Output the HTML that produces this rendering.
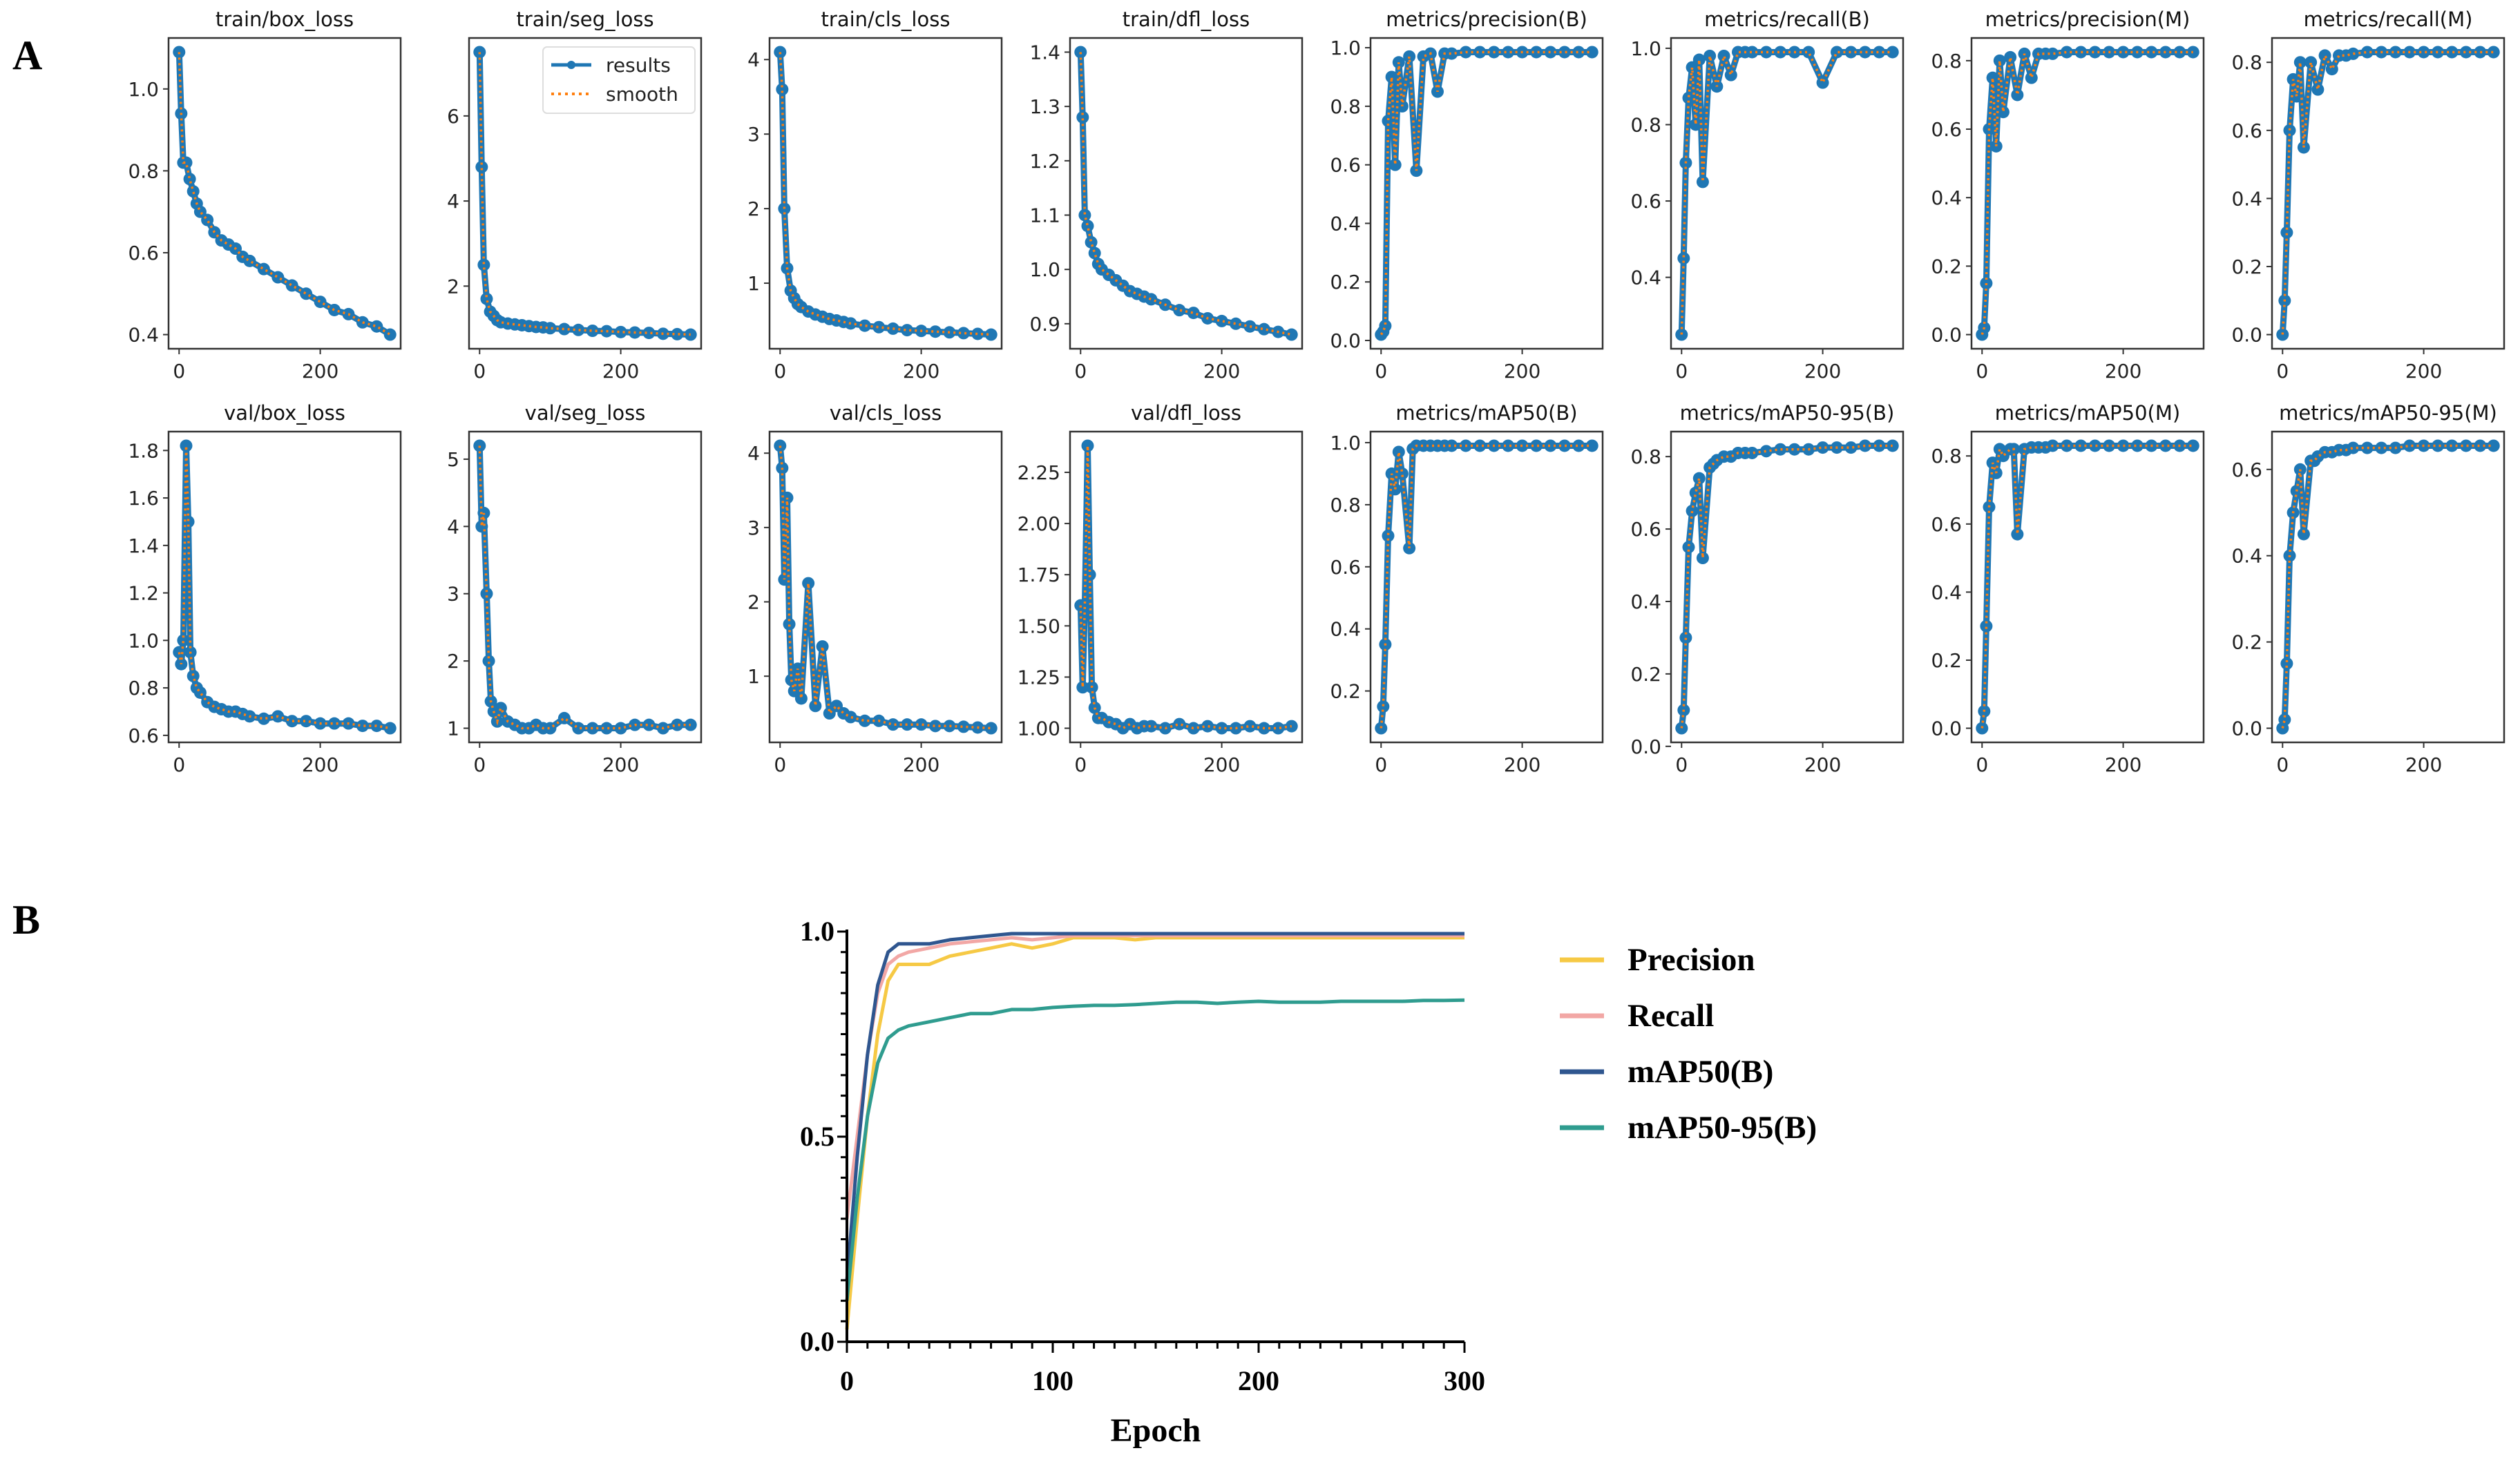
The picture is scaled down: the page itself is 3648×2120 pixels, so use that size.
<!DOCTYPE html>
<html><head><meta charset="utf-8"><style>
html,body{margin:0;padding:0;background:#fff}
svg{display:block}
</style></head><body>
<svg id="fig" width="3648" height="2120" viewBox="0 0 3648 2120" xmlns="http://www.w3.org/2000/svg">
<text x="18" y="100" font-family="Liberation Serif, serif" font-weight="bold" font-size="60">A</text>
<text x="18" y="1352" font-family="Liberation Serif, serif" font-weight="bold" font-size="60">B</text>
<g id="panelA"></g>
<g id="panelB"></g>
</svg>
<script>
// ---- Panel A data ----
const titles = ["train/box_loss","train/seg_loss","train/cls_loss","train/dfl_loss","metrics/precision(B)","metrics/recall(B)","metrics/precision(M)","metrics/recall(M)","val/box_loss","val/seg_loss","val/cls_loss","val/dfl_loss","metrics/mAP50(B)","metrics/mAP50-95(B)","metrics/mAP50(M)","metrics/mAP50-95(M)"];
const epochsStd = [0,3,6,10,15,20,25,30,40,50,60,70,80,90,100,120,140,160,180,200,220,240,260,280,299];
const epochsVal = [0,3,6,10,13,16,20,25,30,40,50,60,70,80,90,100,120,140,160,180,200,220,240,260,280,299];
const epochsMap = [0,3,6,10,15,20,25,30,40,45,50,60,70,80,90,100,120,140,160,180,200,220,240,260,280,299];
const trainBox = [1.09,0.94,0.82,0.82,0.78,0.75,0.72,0.70,0.68,0.65,0.63,0.62,0.61,0.59,0.58,0.56,0.54,0.52,0.50,0.48,0.46,0.45,0.43,0.42,0.40];
const trainSeg = [7.5,4.8,2.5,1.7,1.4,1.3,1.2,1.15,1.12,1.1,1.08,1.06,1.04,1.03,1.01,0.99,0.97,0.95,0.94,0.92,0.91,0.9,0.88,0.87,0.86];
const trainCls = [4.1,3.6,2.0,1.2,0.9,0.8,0.72,0.68,0.62,0.58,0.55,0.52,0.5,0.48,0.46,0.43,0.41,0.39,0.37,0.36,0.35,0.34,0.33,0.32,0.31];
const trainDfl = [1.40,1.28,1.10,1.08,1.05,1.03,1.01,1.0,0.99,0.98,0.97,0.96,0.955,0.95,0.945,0.935,0.925,0.92,0.91,0.905,0.9,0.895,0.89,0.885,0.88];
const precB = [0.02,0.03,0.05,0.75,0.9,0.6,0.95,0.8,0.97,0.58,0.97,0.98,0.85,0.98,0.98,0.985,0.985,0.985,0.985,0.985,0.985,0.985,0.985,0.985,0.985];
const recB = [0.25,0.45,0.7,0.87,0.95,0.8,0.97,0.65,0.98,0.9,0.98,0.93,0.99,0.99,0.99,0.99,0.99,0.99,0.99,0.91,0.99,0.99,0.99,0.99,0.99];
const precM = [0.0,0.02,0.15,0.6,0.75,0.55,0.8,0.65,0.81,0.7,0.82,0.75,0.82,0.82,0.82,0.825,0.825,0.825,0.825,0.825,0.825,0.825,0.825,0.825,0.825];
const recM = [0.0,0.1,0.3,0.6,0.75,0.7,0.8,0.55,0.8,0.72,0.82,0.78,0.82,0.82,0.825,0.83,0.83,0.83,0.83,0.83,0.83,0.83,0.83,0.83,0.83];
const valBox = [0.95,0.9,1.0,1.82,1.5,0.95,0.85,0.8,0.78,0.74,0.72,0.71,0.7,0.7,0.69,0.68,0.67,0.68,0.66,0.66,0.65,0.65,0.65,0.64,0.64,0.63];
const valSeg = [5.2,4.0,4.2,3.0,2.0,1.4,1.25,1.1,1.3,1.1,1.05,1.0,1.0,1.05,1.0,1.0,1.15,1.0,1.0,1.0,1.0,1.05,1.05,1.0,1.05,1.05];
const valCls = [4.1,3.8,2.3,3.4,1.7,0.95,0.8,1.1,0.7,2.25,0.6,1.4,0.5,0.6,0.5,0.45,0.4,0.4,0.35,0.35,0.35,0.33,0.33,0.32,0.31,0.3];
const valDfl = [1.6,1.2,1.6,2.38,1.75,1.2,1.1,1.05,1.05,1.03,1.02,1.0,1.02,1.0,1.01,1.01,1.0,1.02,1.0,1.01,1.0,1.0,1.01,1.0,1.0,1.01];
const map50B = [0.08,0.15,0.35,0.7,0.9,0.85,0.97,0.9,0.66,0.98,0.99,0.99,0.99,0.99,0.99,0.99,0.99,0.99,0.99,0.99,0.99,0.99,0.99,0.99,0.99,0.99];
const map5095B = [0.05,0.1,0.3,0.55,0.65,0.7,0.74,0.52,0.77,0.78,0.79,0.8,0.8,0.81,0.81,0.81,0.815,0.82,0.82,0.82,0.825,0.825,0.825,0.83,0.83,0.83];
const map50M = [0.0,0.05,0.3,0.65,0.78,0.75,0.82,0.8,0.82,0.82,0.57,0.82,0.825,0.825,0.825,0.83,0.83,0.83,0.83,0.83,0.83,0.83,0.83,0.83,0.83,0.83];
const map5095M = [0.0,0.02,0.15,0.4,0.5,0.55,0.6,0.45,0.62,0.62,0.63,0.64,0.64,0.645,0.645,0.65,0.65,0.65,0.65,0.655,0.655,0.655,0.655,0.655,0.655,0.655];
const seriesA = [trainBox,trainSeg,trainCls,trainDfl,precB,recB,precM,recM,valBox,valSeg,valCls,valDfl,map50B,map5095B,map50M,map5095M];
const epochsA = [epochsStd,epochsStd,epochsStd,epochsStd,epochsStd,epochsStd,epochsStd,epochsStd,epochsVal,epochsVal,epochsVal,epochsVal,epochsMap,epochsMap,epochsMap,epochsMap];
const yTicksA = [[0.4,0.6,0.8,1.0],[2,4,6],[1,2,3,4],[0.9,1.0,1.1,1.2,1.3,1.4],[0.0,0.2,0.4,0.6,0.8,1.0],[0.4,0.6,0.8,1.0],[0.0,0.2,0.4,0.6,0.8],[0.0,0.2,0.4,0.6,0.8],
 [0.6,0.8,1.0,1.2,1.4,1.6,1.8],[1,2,3,4,5],[1,2,3,4],[1.00,1.25,1.50,1.75,2.00,2.25],[0.2,0.4,0.6,0.8,1.0],[0.0,0.2,0.4,0.6,0.8],[0.0,0.2,0.4,0.6,0.8],[0.0,0.2,0.4,0.6]];
const yTickFmt = [1,0,0,1,1,1,1,1,1,0,0,2,1,1,1,1];
const xTicksA = [0,200];
// ---- Panel B data ----
const epochsB = [0,5,10,15,20,25,30,40,50,60,70,80,90,100,110,120,130,140,150,160,170,180,190,200,210,220,230,240,250,260,270,280,290,300];
const precisionB = [0.03,0.3,0.55,0.75,0.88,0.92,0.92,0.92,0.94,0.95,0.96,0.97,0.96,0.97,0.985,0.985,0.985,0.98,0.985,0.985,0.985,0.985,0.985,0.985,0.985,0.985,0.985,0.985,0.985,0.985,0.985,0.985,0.985,0.985];
const recallB = [0.3,0.5,0.7,0.85,0.92,0.94,0.95,0.96,0.97,0.975,0.98,0.985,0.98,0.985,0.99,0.99,0.99,0.99,0.99,0.99,0.99,0.99,0.99,0.99,0.99,0.99,0.99,0.99,0.99,0.99,0.99,0.99,0.99,0.99];
const mAP50B = [0.15,0.45,0.7,0.87,0.95,0.97,0.97,0.97,0.98,0.985,0.99,0.995,0.995,0.995,0.995,0.995,0.995,0.995,0.995,0.995,0.995,0.995,0.995,0.995,0.995,0.995,0.995,0.995,0.995,0.995,0.995,0.995,0.995,0.995];
const mAP5095B = [0.1,0.35,0.55,0.68,0.74,0.76,0.77,0.78,0.79,0.80,0.80,0.81,0.81,0.815,0.818,0.82,0.82,0.822,0.825,0.828,0.828,0.825,0.828,0.83,0.828,0.828,0.828,0.83,0.83,0.83,0.83,0.832,0.832,0.833];
const legendB = ["Precision","Recall","mAP50(B)","mAP50-95(B)"];
const colorsB = ["#f6c945","#f2a7a5","#2f568f","#2f9c8f"];
const xTicksB = [0,100,200,300];
const yTicksB = [0.0,0.5,1.0];

const NS = "http://www.w3.org/2000/svg";
function mk(tag, attrs, parent){const e=document.createElementNS(NS,tag);for(const k in attrs)e.setAttribute(k,attrs[k]);parent.appendChild(e);return e;}

// ---- draw panel A ----
const gA = document.getElementById('panelA');
const boxW=336, boxH=450, colStep=435, left0=244, tops=[55,625];
seriesA.forEach((vals,i)=>{
  const col=i%8,row=Math.floor(i/8);
  const x0=left0+col*colStep,y0=tops[row];
  const ep=epochsA[i];
  const ymin=Math.min(...vals),ymax=Math.max(...vals),r=ymax-ymin;
  const lo=ymin-0.05*r,hi=ymax+0.05*r;
  const xlo=-0.05*299,xhi=299*1.05;
  const sx=v=>x0+(v-xlo)/(xhi-xlo)*boxW;
  const sy=v=>y0+boxH-(v-lo)/(hi-lo)*boxH;
  const g=mk('g',{},gA);
  
  
  const t=mk('text',{x:x0+boxW/2,y:y0-17,'text-anchor':'middle','font-family':'DejaVu Sans, sans-serif','font-size':29,fill:'#111'},g);
  t.textContent=titles[i];
  
  
  const pts=ep.map((e,k)=>sx(e).toFixed(1)+','+sy(vals[k]).toFixed(1)).join(' ');
  const line=mk('polyline',{points:pts,fill:'none',stroke:'#1f77b4','stroke-width':9,'stroke-linejoin':'round'},g);
  
  
  ep.forEach((e,k)=>{
    const c=mk('circle',{cx:sx(e),cy:sy(vals[k]),r:9,fill:'#1f77b4'},g);
    
    
  });
  const sm=mk('polyline',{points:pts,fill:'none',stroke:'#ff7f0e','stroke-width':3.5,'stroke-dasharray':'3 5'},g);
  
  
  const fr=mk('rect',{x:x0,y:y0,width:boxW,height:boxH,fill:'none',stroke:'#333','stroke-width':2.5},g);
  
  
  yTicksA[i].forEach(v=>{
    const y=sy(v);
    mk('line',{x1:x0-8,x2:x0,y1:y,y2:y,stroke:'#333','stroke-width':2},g);
    const tl=mk('text',{x:x0-14,y:y+10,'text-anchor':'end','font-family':'DejaVu Sans, sans-serif','font-size':28,fill:'#222'},g);
    tl.textContent=v.toFixed(yTickFmt[i]);
    
    
  });
  xTicksA.forEach(v=>{
    const x=sx(v);
    mk('line',{x1:x,x2:x,y1:y0+boxH,y2:y0+boxH+8,stroke:'#333','stroke-width':2},g);
    const tl=mk('text',{x:x,y:y0+boxH+42,'text-anchor':'middle','font-family':'DejaVu Sans, sans-serif','font-size':28,fill:'#222'},g);
    tl.textContent=String(v);
    
    
  });
  if(i===1){
    const lg=mk('g',{},g);
    
    
    mk('rect',{x:786,y:68,width:220,height:96,rx:6,fill:'#fff',stroke:'#ddd','stroke-width':2},lg);
    mk('line',{x1:798,x2:856,y1:94,y2:94,stroke:'#1f77b4','stroke-width':5},lg);
    mk('circle',{cx:827,cy:94,r:6,fill:'#1f77b4'},lg);
    mk('line',{x1:798,x2:856,y1:136,y2:136,stroke:'#ff7f0e','stroke-width':4,'stroke-dasharray':'4 6'},lg);
    const a=mk('text',{x:877,y:104,'font-family':'DejaVu Sans, sans-serif','font-size':28,fill:'#222'},lg);a.textContent='results';
    
    
    const b=mk('text',{x:877,y:146,'font-family':'DejaVu Sans, sans-serif','font-size':28,fill:'#222'},lg);b.textContent='smooth';
    
    
  }
});

// ---- draw panel B ----
const gB=document.getElementById('panelB');
const bx0=1226,bx1=2120,by0=1943,by1=1349;
const bsx=v=>bx0+v/300*(bx1-bx0);
const bsy=v=>by0-v*(by0-by1);
[precisionB,recallB,mAP50B,mAP5095B].forEach((vals,k)=>{
  const pts=epochsB.map((e,j)=>bsx(e).toFixed(1)+','+bsy(vals[j]).toFixed(1)).join(' ');
  const pl=mk('polyline',{points:pts,fill:'none',stroke:colorsB[k],'stroke-width':5,'stroke-linejoin':'round'},gB);
  
  
});
mk('line',{x1:bx0,x2:bx0,y1:by1-3,y2:by0,stroke:'#000','stroke-width':4},gB);
mk('line',{x1:bx0,x2:bx1,y1:by0,y2:by0,stroke:'#000','stroke-width':4},gB);
for(let v=0;v<=1.0001;v+=0.05){
  const maj=Math.abs(v*2-Math.round(v*2))<1e-6;
  mk('line',{x1:bx0-(maj?14:9),x2:bx0,y1:bsy(v),y2:bsy(v),stroke:'#000','stroke-width':3},gB);
}
for(let v=0;v<=300;v+=10){
  const maj=v%100===0;
  mk('line',{x1:bsx(v),x2:bsx(v),y1:by0,y2:by0+(maj?16:10),stroke:'#000','stroke-width':3},gB);
}
yTicksB.forEach(v=>{
  const t=mk('text',{x:bx0-18,y:bsy(v)+13,'text-anchor':'end','font-family':'Liberation Serif, serif','font-weight':'bold','font-size':40},gB);
  t.textContent=v.toFixed(1);
  
  
});
xTicksB.forEach(v=>{
  const t=mk('text',{x:bsx(v),y:by0+70,'text-anchor':'middle','font-family':'Liberation Serif, serif','font-weight':'bold','font-size':40},gB);
  t.textContent=String(v);
  
  
});
const xl=mk('text',{x:1673,y:2087,'text-anchor':'middle','font-family':'Liberation Serif, serif','font-weight':'bold','font-size':48},gB);
xl.textContent='Epoch';


legendB.forEach((name,k)=>{
  const y=1390+k*81;
  const lg=mk('g',{},gB);
  
  
  mk('line',{x1:2258,x2:2322,y1:y,y2:y,stroke:colorsB[k],'stroke-width':7},lg);
  const t=mk('text',{x:2356,y:y+15,'font-family':'Liberation Serif, serif','font-weight':'bold','font-size':47},lg);
  t.textContent=name;
});
</script>
</body></html>
